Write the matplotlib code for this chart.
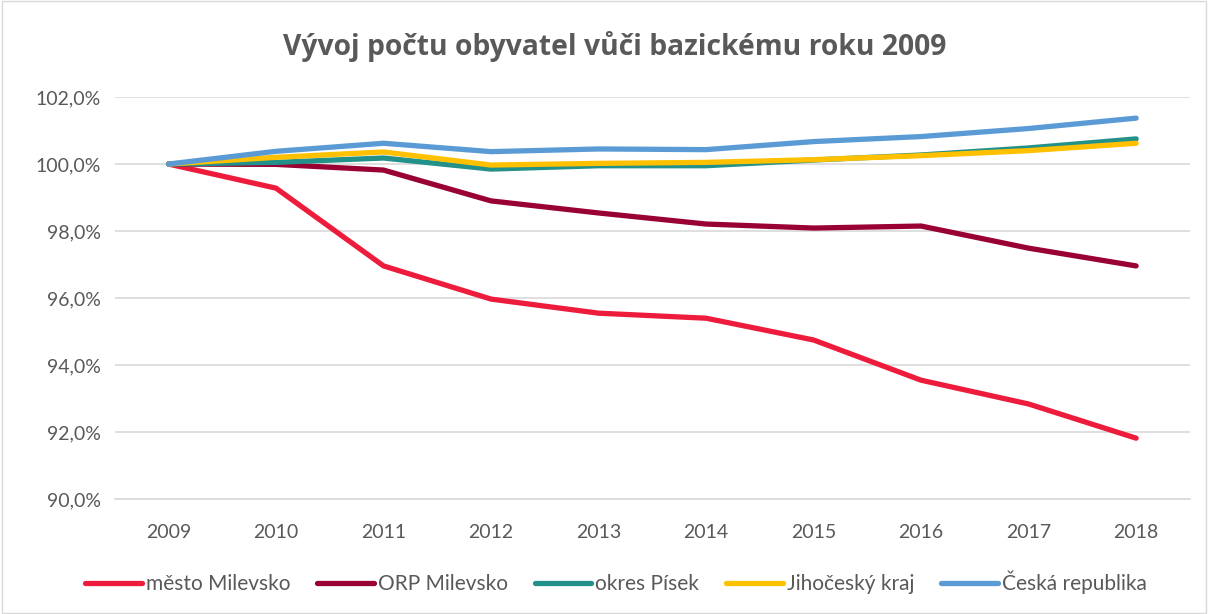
import matplotlib.pyplot as plt
from matplotlib.ticker import FuncFormatter

plt.rcParams['font.family'] = ['Lato', 'DejaVu Sans']

years = [2009, 2010, 2011, 2012, 2013, 2014, 2015, 2016, 2017, 2018]

mesto = [100.0, 99.28, 96.96, 95.97, 95.55, 95.40, 94.75, 93.55, 92.84, 91.82]
orp = [100.0, 99.99, 99.82, 98.90, 98.54, 98.21, 98.09, 98.15, 97.49, 96.96]
okres = [100.0, 100.05, 100.18, 99.85, 99.95, 99.95, 100.12, 100.27, 100.48, 100.75]
kraj = [100.0, 100.20, 100.36, 99.97, 100.02, 100.05, 100.13, 100.25, 100.40, 100.62]
cr = [100.0, 100.38, 100.62, 100.37, 100.45, 100.43, 100.67, 100.82, 101.06, 101.37]

series = [
    ('město Milevsko', mesto, '#ee1c3c'),
    ('ORP Milevsko', orp, '#990033'),
    ('okres Písek', okres, '#22918a'),
    ('Jihočeský kraj', kraj, '#ffc000'),
    ('Česká republika', cr, '#5b9bd5'),
]

txt = '#595959'

fig = plt.figure(figsize=(12.08, 6.14), dpi=100)
ax = fig.add_axes([0.095, 0.187, 0.89, 0.655])

x = list(range(len(years)))
for name, vals, col in series:
    ax.plot(x, vals, color=col, linewidth=3.8, label=name, solid_capstyle='round',
            solid_joinstyle='round')

ax.set_ylim(90, 102)
ax.set_yticks([90, 92, 94, 96, 98, 100, 102])
ax.yaxis.set_major_formatter(FuncFormatter(lambda v, p: ('%.1f%%' % v).replace('.', ',')))
ax.set_xlim(-0.5, len(years) - 0.5)
ax.set_xticks(x)
ax.set_xticklabels([str(y) for y in years])
ax.grid(axis='y', color='#d9d9d9', linewidth=1.2)
ax.set_axisbelow(True)
for s in ['top', 'right', 'left']:
    ax.spines[s].set_visible(False)
ax.spines['bottom'].set_color('#d9d9d9')
ax.spines['bottom'].set_linewidth(1.2)
ax.tick_params(length=0, colors=txt, labelsize=14)
ax.tick_params(axis='x', pad=18)
ax.tick_params(axis='y', pad=10)

fig.text(0.509, 0.925, 'Vývoj počtu obyvatel vůči bazickému roku 2009', ha='center', va='center',
         fontsize=20.3, fontweight='bold', color=txt, family=['Open Sans', 'DejaVu Sans'])

leg = fig.legend(loc='center', bbox_to_anchor=(0.51, 0.052), ncol=5, frameon=False,
                 fontsize=15, handlelength=2.7, columnspacing=1.3, handletextpad=0.2)
for t in leg.get_texts():
    t.set_color(txt)

fig.patches.append(plt.Rectangle((0.002, 0.002), 0.996, 0.996, transform=fig.transFigure,
                                 fill=False, edgecolor='#d9d9d9', linewidth=1))

fig.savefig('out.png', dpi=100)
